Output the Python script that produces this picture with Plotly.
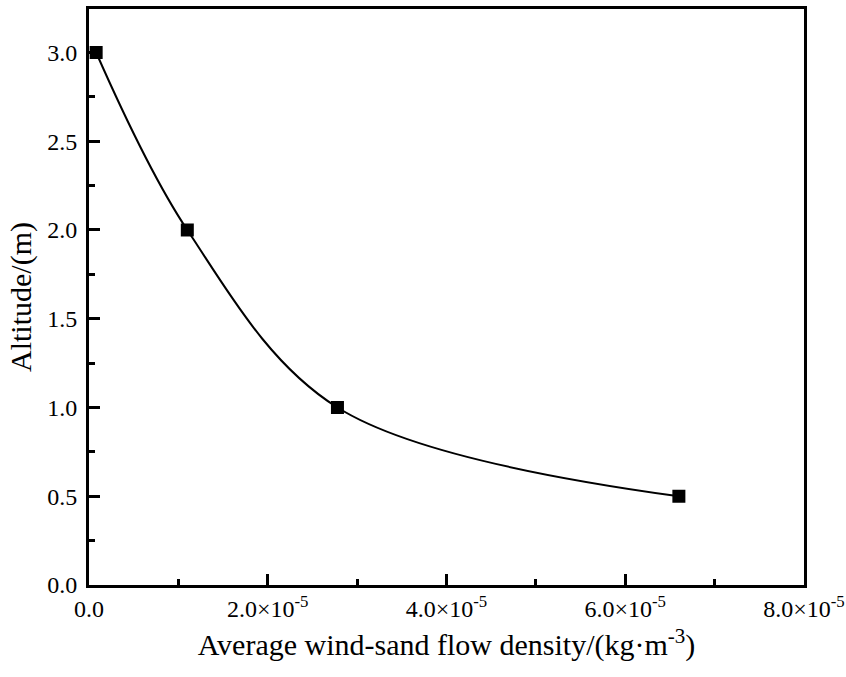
import plotly.graph_objects as go

density = [0.08e-5, 1.1e-5, 2.78e-5, 6.6e-5]
altitude = [3.0, 2.0, 1.0, 0.5]

x_tickvals = [0, 2e-5, 4e-5, 6e-5, 8e-5]
x_ticktext = ["0.0", "2.0×10<sup>-5</sup>", "4.0×10<sup>-5</sup>", "6.0×10<sup>-5</sup>", "8.0×10<sup>-5</sup>"]
y_tickvals = [0, 0.5, 1.0, 1.5, 2.0, 2.5, 3.0]
y_ticktext = ["0.0", "0.5", "1.0", "1.5", "2.0", "2.5", "3.0"]

font_family = "Liberation Serif, Times New Roman, serif"

fig = go.Figure()
fig.add_trace(go.Scatter(
    x=density, y=altitude, mode="lines+markers",
    line=dict(color="black", width=2, shape="spline", smoothing=1.0),
    marker=dict(symbol="square", size=13, color="black"),
    cliponaxis=False, showlegend=False,
))

axis_common = dict(
    showline=True, linecolor="black", linewidth=3, mirror=True,
    ticks="inside", ticklen=11, tickwidth=3, tickcolor="black",
    showgrid=False, zeroline=False, automargin=False,
    tickfont=dict(family=font_family, size=24, color="black"),
)

fig.update_xaxes(
    range=[0, 8e-5], tickmode="array", tickvals=x_tickvals, ticktext=x_ticktext,
    minor=dict(ticks="inside", ticklen=6, tickwidth=3, tickcolor="black", dtick=1e-5, tick0=0),
    ticklabeloverflow="allow",
    title=dict(text="Average wind-sand flow density/(kg·m<sup>-3</sup>)",
               font=dict(family=font_family, size=30, color="black"), standoff=14),
    ticklabelstandoff=0,
    **axis_common,
)
fig.update_yaxes(
    range=[0, 3.245], tickmode="array", tickvals=y_tickvals, ticktext=y_ticktext,
    minor=dict(ticks="inside", ticklen=6, tickwidth=3, tickcolor="black", dtick=0.25, tick0=0),
    title=dict(text="Altitude/(m)", font=dict(family=font_family, size=30, color="black"), standoff=7),
    ticklabelstandoff=4,
    **axis_common,
)

fig.update_layout(
    width=846, height=677,
    margin=dict(l=89, r=42, t=9, b=92),
    paper_bgcolor="white", plot_bgcolor="white",
)

fig.write_html(
    "out.html",
    config={"displayModeBar": False},
    post_script="document.body.style.margin='0';document.body.style.overflow='hidden';",
)
